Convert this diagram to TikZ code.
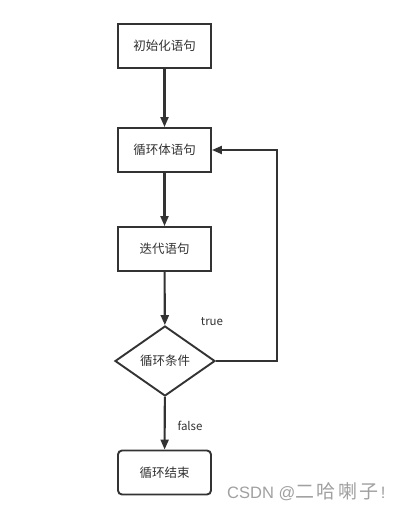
\documentclass[tikz,border=0pt]{standalone}
\usepackage{fontspec}
\setmainfont{Noto Sans CJK SC}
\newfontfamily\wmlat{Liberation Sans}
\usetikzlibrary{arrows.meta,shapes.geometric}
\definecolor{ink}{HTML}{333333}
\definecolor{wm}{HTML}{A0A0A0}
\begin{document}
\begin{tikzpicture}[x=1pt,y=-1pt,
  stepbox/.style={draw=ink,line width=1.9pt,minimum width=93pt,minimum height=44pt,inner sep=0pt,text=ink,font=\fontsize{12.5}{14}\selectfont},
  endbox/.style={stepbox,rounded corners=4pt},
  cond/.style={draw=ink,line width=1.9pt,diamond,minimum width=100pt,minimum height=70pt,inner sep=0pt,aspect=1.43,text=ink,font=\fontsize{12.5}{14}\selectfont},
  flow/.style={draw=ink,line width=2.1pt,-{Triangle[length=10pt,width=8pt]}},
  lbl/.style={text=ink,font=\fontsize{11.5}{13}\selectfont,inner sep=0pt}]
\useasboundingbox (0,0) rectangle (405,512);
\fill[white] (0,0) rectangle (405,512);
\node[stepbox] (init) at (164.5,46) {初始化语句};
\node[stepbox] (body) at (164.5,150) {循环体语句};
\node[stepbox] (iter) at (164.5,249) {迭代语句};
\node[cond] (cond) at (165,361) {};
\node[text=ink,font=\fontsize{12.5}{14}\selectfont] (condt) at (165,361) {循环条件};
\node[endbox] (end) at (164.5,472.5) {循环结束};
\coordinate (cr) at (277,361);
\coordinate (tr) at (277,150);
\draw[flow] (init) -- (body);
\draw[flow] (body) -- (iter);
\draw[flow] (iter) -- (cond);
\draw[flow] (cond) -- (end);
\draw[flow] (cond.east) -- (cr) -- (tr) -- (body.east);
\node[lbl] (t) at (212,322) {true};
\node[lbl] (f) at (190,426) {false};
\node[text=wm,inner sep=0pt,anchor=base west] (w) at (227,498) {{\wmlat\fontsize{16.5}{18}\selectfont CSDN @}{\fontsize{19}{20}\selectfont 二\hspace{2.5pt}哈\hspace{2.5pt}喇\hspace{2.5pt}子}{\wmlat\fontsize{16.5}{18}\selectfont\hspace{2pt}!}};
\end{tikzpicture}
\end{document}
